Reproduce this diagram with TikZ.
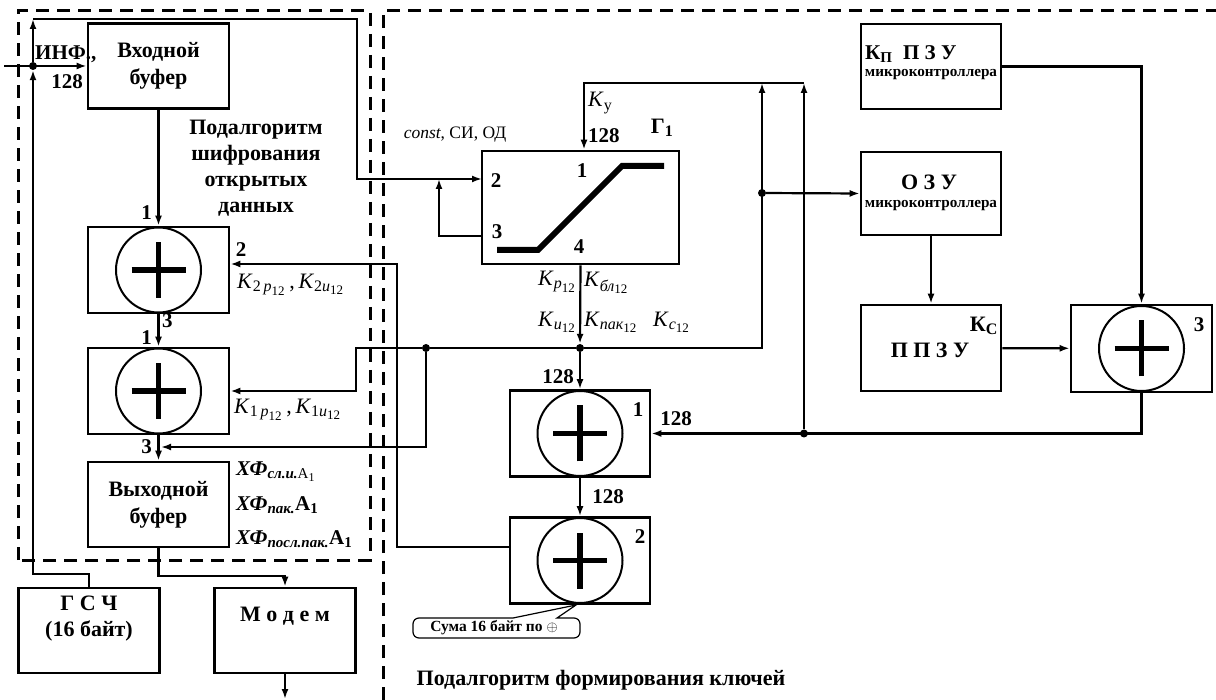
\documentclass[tikz,border=0pt]{standalone}
\usepackage{amsmath}
\usepackage{fontspec}
\setmainfont{Liberation Serif}
\usetikzlibrary{arrows.meta,positioning}
\DeclareMathSizes{22}{22}{16}{13}
\DeclareMathSizes{21}{21}{15}{12}
\newcommand{\Kk}[2]{\textit{K}$_{\textit{#1}_{\text{#2}}}$}
\begin{document}
\begin{tikzpicture}[x=1pt, y=-1pt,
        blk/.style={draw, line width=2.6pt, minimum width=141, minimum height=85, inner sep=0pt, align=center, font=\fontsize{22}{27}\selectfont\bfseries},
        xorbox/.style={draw, line width=2.6pt, minimum width=141, minimum height=86, inner sep=0pt},
        txt/.style={align=center, inner sep=0pt, font=\fontsize{22}{26}\selectfont\bfseries},
        small/.style={inner sep=0pt, font=\fontsize{15.2}{17}\selectfont\bfseries},
        wire/.style={line width=2.2pt},
        arr/.style={wire, -{Latex[length=10pt,width=7pt]}},
        frame/.style={line width=3pt, dash pattern=on 13pt off 8pt},
        dot/.style={circle, fill, inner sep=0pt, minimum size=8pt},
        num/.style={font=\fontsize{21}{23}\selectfont\bfseries, inner sep=1pt},
        key/.style={font=\fontsize{22}{24}\selectfont, inner sep=1pt}]
    \useasboundingbox (0,0) rectangle (1216,700);

    % frames
    \draw[frame] (18,560) -- (18,11) -- (370,11) -- (370,560) -- cycle;
    \draw[frame] (383,700) -- (383,11) -- (1216,11);

    % encryption subalgorithm
    \node[blk] (inbuf) at (158.5,66) {Входной\\буфер};
    \node[xorbox] (xa) at (158.5,270) {};
    \node[xorbox] (xb) at (158.5,391) {};
    \node[blk] (outbuf) at (158.5,504.5) {Выходной\\буфер};
    \node[blk] (gsch) at (89,630.5) {};
    \node[txt] (gsch-t) at (89,619) {Г С Ч\\(16 байт)};
    \node[blk] (modem) at (285,630.5) {};
    \node[txt] (modem-t) at (285,616) {М о д е м};
    \node[txt] (title1) at (256,168) {Подалгоритм\\шифрования\\открытых\\данных};

    % key subalgorithm
    \node[blk, minimum width=197, minimum height=113] (g1) at (580.5,207.5) {};
    \node[xorbox, minimum width=140] (k1) at (580,433.5) {};
    \node[xorbox, minimum width=140] (k2) at (580,560.5) {};
    \node[xorbox, minimum height=87] (k3) at (1141.5,348.5) {};
    \node[blk, minimum width=140] (kpzu) at (931,66.5) {};
    \node[blk, minimum width=140, minimum height=83] (ozu) at (931,193.5) {};
    \node[blk, minimum width=140, minimum height=86] (ppzu) at (931,348) {};
    \node[txt, anchor=west, font=\fontsize{21}{24}\selectfont\bfseries] (kpzu-t) at (865,54) {К$_{\text{П}}$\ \ П З У};
    \node[small] (kpzu-m) at (931,75) {микроконтроллера};
    \node[txt] (ozu-t) at (929,182) {О З У};
    \node[small] (ozu-m) at (931,206) {микроконтроллера};
    \node[txt] (ppzu-t) at (930,350) {П П З У};
    \node[txt, anchor=east] (ppzu-k) at (998,326) {К$_{\text{С}}$};
    \node[txt] (title2) at (601,680) {Подалгоритм формирования ключей};

    % adders
    \foreach \n in {xa,xb,k1,k2,k3}{
        \draw[line width=2pt] (\n.center) circle (42.5);
        \draw[line width=5.5pt] ([xshift=-27pt]\n.center) -- ([xshift=27pt]\n.center)
            ([yshift=-28pt]\n.center) -- ([yshift=28pt]\n.center);
    }

    % switch G1
    \draw[line width=6pt] (497,250) -- (538,250) -- (622,166) -- (664,166);
    \node[num] (p1) at (582,171) {1};
    \node[num] (p2) at (496,181) {2};
    \node[num] (p3) at (497,232) {3};
    \node[num] (p4) at (579,247) {4};
    \node[num, font=\fontsize{22}{24}\selectfont\bfseries] (g1-t) at (662,128) {Г$_{\text{1}}$};

    % junctions
    \node[dot] (j0) at (33,66) {};
    \node[dot] (j1) at (580,348) {};
    \node[dot] (j2) at (426,348) {};
    \node[dot] (j3) at (762,193) {};
    \node[dot] (j4) at (804,433.5) {};
    \coordinate (inf) at (4,66);
    \coordinate (fb) at (33,19);
    \coordinate (fbr) at (357,19);
    \coordinate (in2) at (482,179);
    \coordinate (loop) at (439,179);
    \coordinate (t1) at (762,83);
    \coordinate (t2) at (804,83);
    \coordinate (c2) at (397,264);
    \coordinate (c3) at (161,447);
    \coordinate (bus) at (356,348);
    \coordinate (mout) at (285,699);

    % encryption connectors
    \draw[arr] (inf) -- (inbuf.west);
    \draw[arr] (gsch.north) -- ++(0,-13) -| (j0.south);
    \draw[arr] (j0) -- (fb);
    \draw[arr] (fb) -- (fbr) |- (in2);
    \draw[arr] (inbuf) -- (xa);
    \draw[arr] (xa) -- (xb);
    \draw[arr] (xb) -- (outbuf);
    \draw[arr] (outbuf.south) -- ++(0,28) -| (modem.north);
    \draw[arr] (modem) -- (mout);
    \draw[arr] ([yshift=13.5pt]k2.west) -| (c2) -- ([yshift=6pt]xa.east);
    \draw[arr] (j1) -- (j2) -- (bus) |- (xb.east);
    \draw[arr] (j2) |- (c3);

    % key connectors
    \draw[arr] (g1.south) -- (j1);
    \draw[arr] (j1) -- (k1);
    \draw[arr] (k1) -- (k2);
    \draw[arr] (j1) -| (t1);
    \draw[arr] (j4) -- (t2);
    \draw[arr] (t2) -| ([xshift=3.5pt]g1.north);
    \draw[arr] ([yshift=-28.5pt]g1.west) -| (loop);
    \draw[arr] (j3) -- (ozu.west);
    \draw[arr] (kpzu.east) -| (k3.north);
    \draw[arr] (ozu) -- (ppzu);
    \draw[arr] (ppzu) -- (k3);
    \draw[arr] (k3.south) |- (k1.east);

    % labels
    \node[num, anchor=west] (l-inf) at (34,54) {ИНФ.,};
    \node[num] (l-128a) at (67,82) {128};
    \node[num, anchor=east] (l-xa1) at (153,213) {1};
    \node[num] (l-xa2) at (241,250) {2};
    \node[num, anchor=west] (l-xa3) at (161,321) {3};
    \node[num, anchor=east] (l-xb1) at (153,338) {1};
    \node[num, anchor=east] (l-xb3) at (153,447) {3};
    \node[key, anchor=west] (l-k2) at (236,285) {\textit{K}$_{\text{2}\,\textit{р}_{\text{12}}}$\,,\,\textit{K}$_{\text{2}\textit{и}_{\text{12}}}$};
    \node[key, anchor=west] (l-k1) at (233,410) {\textit{K}$_{\text{1}\,\textit{р}_{\text{12}}}$\,,\,\textit{K}$_{\text{1}\textit{и}_{\text{12}}}$};
    \node[num, anchor=west, font=\fontsize{21}{23}\selectfont\bfseries\itshape] (l-x1) at (235,472) {ХФ$_{\text{сл.и.}\textmd{\textup{A}}_{\textmd{\textup{1}}}}$};
    \node[num, anchor=west, font=\fontsize{21}{23}\selectfont\bfseries\itshape] (l-x2) at (235,505) {ХФ$_{\text{пак.}}$\textup{A}$_{\textup{\text{1}}}$};
    \node[num, anchor=west, font=\fontsize{21}{23}\selectfont\bfseries\itshape] (l-x3) at (235,539) {ХФ$_{\text{посл.пак.}}$\textup{A}$_{\textup{\text{1}}}$};
    \node[key, font=\fontsize{17.5}{19}\selectfont] (l-const) at (455,135) {\textit{const}, СИ, ОД};
    \node[key, anchor=west] (l-ky) at (587,103) {\textit{K}$_{\text{у}}$};
    \node[num, anchor=west] (l-128b) at (587,136) {128};
    \node[key, anchor=east] (l-kp) at (577,282) {\Kk{р}{12}};
    \node[key, anchor=west] (l-kbl) at (583,283) {\Kk{бл}{12}};
    \node[key, anchor=east] (l-ki) at (577,322) {\Kk{и}{12}};
    \node[key, anchor=west] (l-kpak) at (583,322) {\Kk{пак}{12}};
    \node[key, anchor=west] (l-kc) at (652,322) {\Kk{с}{12}};
    \node[num, anchor=east] (l-128c) at (575,377) {128};
    \node[num] (l-k11) at (638,410) {1};
    \node[num] (l-128d) at (676,419) {128};
    \node[num] (l-128e) at (608,497) {128};
    \node[num] (l-k22) at (640,537) {2};
    \node[num] (l-k33) at (1199,325) {3};

    % note
    \node[small, font=\fontsize{15.5}{17}\selectfont\bfseries] (note) at (494,628) {Сума 16 байт по {\mdseries$\oplus$}};
    \draw[line width=1.2pt] (557,618) [rounded corners=6pt] -- (580,618) -- (580,638)
        -- (413,638) -- (413,618) [sharp corners] -- (513,618) -- (576,605) -- cycle;
\end{tikzpicture}
\end{document}
